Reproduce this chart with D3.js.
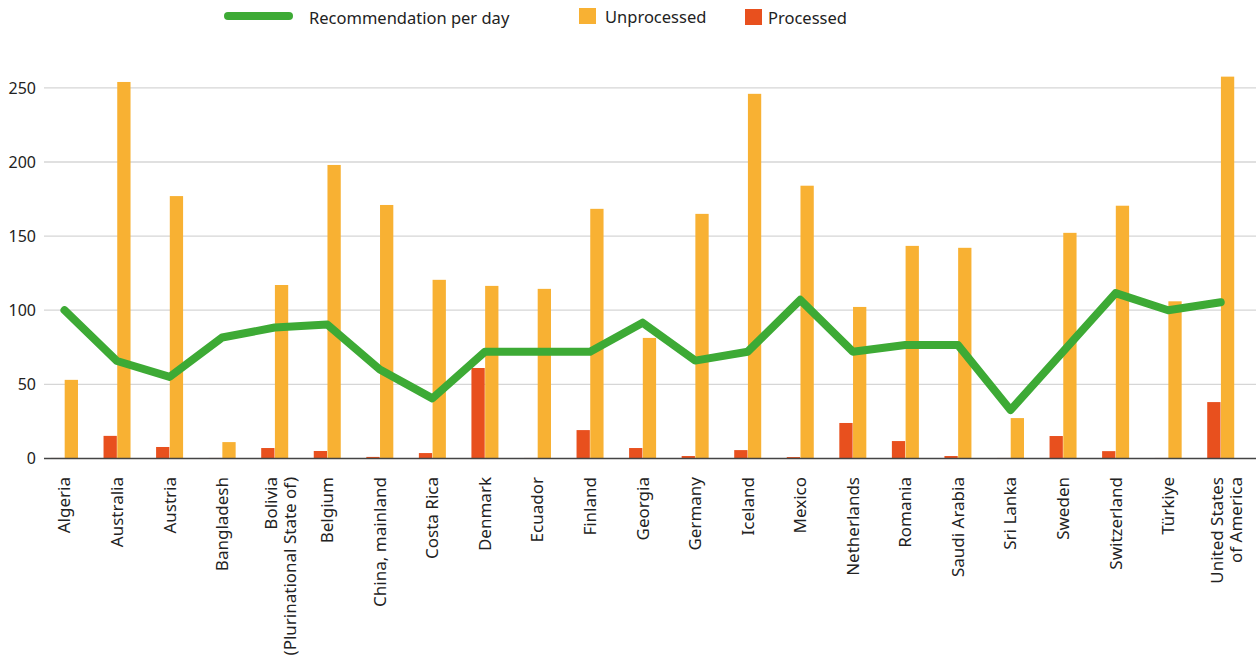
<!DOCTYPE html>
<html>
<head>
<meta charset="utf-8">
<script src="https://cdn.jsdelivr.net/npm/d3@7"></script>
<style>
    body { margin: 0; background: white; }
    text { font-family: "Noto Sans", "Open Sans", sans-serif; fill: #222; }
</style>
</head>
<body>
<div id="graphique"></div>
<script>
// Les données
const pays = ["Algeria", "Australia", "Austria", "Bangladesh", "Bolivia\n(Plurinational State of)", "Belgium",
              "China, mainland", "Costa Rica", "Denmark", "Ecuador", "Finland", "Georgia", "Germany", "Iceland",
              "Mexico", "Netherlands", "Romania", "Saudi Arabia", "Sri Lanka", "Sweden", "Switzerland", "Türkiye",
              "United States\nof America"];
const non_transformee = [53, 254, 177, 11, 117, 198, 171, 120.5, 116.4, 114.4, 168.4, 81.3, 165, 246, 184, 102.2,
                         143.4, 142.1, 27.2, 152.2, 170.5, 106, 257.6];
const transformee = [0.3, 15.2, 7.7, 0.3, 7, 5, 1, 3.6, 61, 0.3, 19.1, 7, 1.6, 5.6, 0.9, 23.9, 11.7, 1.6, 0.3,
                     15.1, 4.9, 0.3, 38];
const recommandation = [100, 65.7, 55, 81.6, 88.3, 90.4, 60, 40.5, 72, 72, 72, 91.6, 66, 72, 107, 72, 76.5, 76.5,
                        32.6, 72, 111.5, 100, 105.4];
const series = ["Processed", "Unprocessed"];
const graduations = [0, 50, 100, 150, 200, 250];

const largeur = 1256, hauteur = 655;
const couleurs = { "Processed": "#E8501E", "Unprocessed": "#F8B133" };
const vert = "#3DAA35";

const svg = d3.select("#graphique").append("svg")
    .attr("width", largeur)
    .attr("height", hauteur);

// Échelles
const x = d3.scaleBand().domain(pays).range([38.2, 1247]).padding(0);
const y = d3.scaleLinear().domain([0, 250]).range([458.4, 87.9]);
const largeur_groupe = 27;
const xSerie = d3.scaleBand().domain(series).range([0, largeur_groupe]).paddingInner(0.03);
const centre = (p) => x(p) + x.bandwidth() / 2;

// Grille horizontale
svg.append("g").selectAll("line")
    .data(graduations.filter(d => d > 0))
    .join("line")
    .attr("x1", 44).attr("x2", largeur)
    .attr("y1", d => y(d)).attr("y2", d => y(d))
    .attr("stroke", "#d6d6d6")
    .attr("stroke-width", 1.3);

// Axe vertical (texte seulement)
const axeY = svg.append("g")
    .attr("transform", "translate(36,0)")
    .call(d3.axisLeft(y).tickValues(graduations).tickSize(0).tickPadding(0));
axeY.select(".domain").remove();
axeY.selectAll("text").attr("font-size", 16).attr("fill", "#222")
    .style("font-family", '"Noto Sans", sans-serif');

// Barres
const lignes = pays.map((p, i) => ({ pays: p, Processed: transformee[i], Unprocessed: non_transformee[i] }));
svg.append("g").selectAll("g")
    .data(lignes)
    .join("g")
    .attr("transform", d => "translate(" + (centre(d.pays) - largeur_groupe / 2) + ",0)")
    .selectAll("rect")
    .data(d => series.map(s => ({ serie: s, valeur: d[s] })))
    .join("rect")
    .attr("x", d => xSerie(d.serie))
    .attr("width", xSerie.bandwidth())
    .attr("y", d => y(d.valeur))
    .attr("height", d => y(0) - y(d.valeur))
    .attr("fill", d => couleurs[d.serie]);

// Ligne de base
svg.append("line")
    .attr("x1", 44).attr("x2", largeur)
    .attr("y1", y(0)).attr("y2", y(0))
    .attr("stroke", "#444")
    .attr("stroke-width", 1.5);

// Ligne de recommandation
const ligne = d3.line()
    .x((d, i) => centre(pays[i]))
    .y(d => y(d));
svg.append("path")
    .attr("d", ligne(recommandation))
    .attr("fill", "none")
    .attr("stroke", vert)
    .attr("stroke-width", 8)
    .attr("stroke-linejoin", "round")
    .attr("stroke-linecap", "round");

// Étiquettes des pays (tournées de 90°)
const etiquettes = svg.append("g").selectAll("text")
    .data(pays)
    .join("text")
    .attr("transform", d => "translate(" + centre(d) + ",477) rotate(-90)")
    .attr("text-anchor", "end")
    .attr("font-size", 17);
etiquettes.each(function(d) {
    let morceaux = d.split("\n");
    let decalage = morceaux.length > 1 ? -4 : 0;
    morceaux.forEach((m, k) => {
        d3.select(this).append("tspan")
            .attr("x", 0)
            .attr("y", decalage + k * 19.5)
            .attr("dy", "0.35em")
            .text(m);
    });
});

// Légende
const legende = svg.append("g");
legende.append("line")
    .attr("x1", 228).attr("x2", 289)
    .attr("y1", 16).attr("y2", 16)
    .attr("stroke", vert)
    .attr("stroke-width", 8)
    .attr("stroke-linecap", "round");
legende.append("text").attr("x", 309).attr("y", 18).attr("dy", "0.35em")
    .attr("font-size", 16.5).text("Recommendation per day");
legende.append("rect").attr("x", 579).attr("y", 8).attr("width", 17).attr("height", 16)
    .attr("fill", couleurs["Unprocessed"]);
legende.append("text").attr("x", 605).attr("y", 17).attr("dy", "0.35em")
    .attr("font-size", 16.5).text("Unprocessed");
legende.append("rect").attr("x", 745).attr("y", 9).attr("width", 17).attr("height", 16)
    .attr("fill", couleurs["Processed"]);
legende.append("text").attr("x", 768).attr("y", 18).attr("dy", "0.35em")
    .attr("font-size", 16.5).text("Processed");
</script>
</body>
</html>
